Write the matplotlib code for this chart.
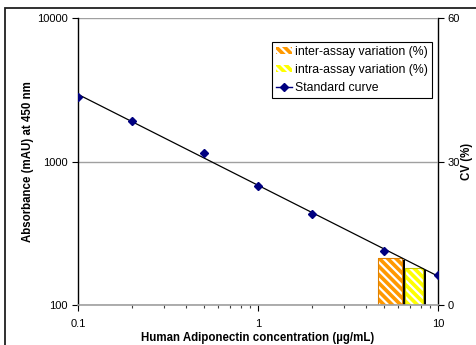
import numpy as np
import matplotlib
matplotlib.use("Agg")
import matplotlib.pyplot as plt
from matplotlib.lines import Line2D
from matplotlib.patches import Patch, Rectangle
from matplotlib.ticker import NullFormatter, LogLocator

plt.rcParams['font.family'] = ['Liberation Sans', 'DejaVu Sans']
plt.rcParams['hatch.linewidth'] = 1.6

# Data
concentration = [0.1, 0.2, 0.5, 1, 2, 5, 10]
absorbance = [2815, 1915, 1146, 675, 431, 238, 162]
cv_labels = ['inter-assay variation (%)', 'intra-assay variation (%)']
cv_values = [9.8, 7.7]

fig = plt.figure(figsize=(4.76, 3.45), dpi=100)
ax = fig.add_axes([78/476, 40/345, 360/476, 287/345])
ax2 = ax.twinx()

# bars on secondary axis
bar_left = [4.64, 6.56]
bar_right = [6.31, 8.26]
faces = ['#FF9900', '#FFFF00']
edges = ['#E08000', '#C8C800']
for l, r, v, fc, ec in zip(bar_left, bar_right, cv_values, faces, edges):
    ax2.add_patch(Rectangle((r * 0.99, 0), r * 1.04 - r * 0.99, v - 0.4,
                            facecolor='black', edgecolor='none', zorder=1))
    ax2.add_patch(Rectangle((l, 0), r - l, v, facecolor=fc, edgecolor='white',
                            hatch='\\\\\\\\', linewidth=0, zorder=2))
    ax2.add_patch(Rectangle((l, 0), r - l, v, facecolor='none', edgecolor=ec,
                            linewidth=0.8, zorder=3))
ax2.set_ylim(0, 60)
ax2.set_yticks([0, 30, 60])
ax2.tick_params(axis='y', labelsize=8, length=4, width=0.8, direction='out', pad=3)
ax2.set_ylabel('CV (%)', fontsize=8.3, fontweight='bold', labelpad=1)
for s in ['top', 'left', 'bottom']:
    ax2.spines[s].set_visible(False)
ax2.spines['right'].set_linewidth(1.0)

# main axis on top
ax.set_zorder(ax2.get_zorder() + 1)
ax.patch.set_visible(False)
ax.set_xscale('log')
ax.set_yscale('log')
ax.set_xlim(0.1, 10)
ax.set_ylim(100, 10000)

# power trendline fitted to the data
lx = np.log10(concentration)
ly = np.log10(absorbance)
b, a = np.polyfit(lx, ly, 1)
xs = np.array([concentration[0], concentration[-1]])
ax.plot(xs, 10 ** (a + b * np.log10(xs)), color='black', lw=0.9, zorder=3)
ax.plot(concentration, absorbance, linestyle='none', marker='D', ms=4.5,
        color='#000080', zorder=4)

ax.yaxis.grid(True, which='major', color='#A0A0A0', lw=1.0)
ax.set_axisbelow(True)
ax.yaxis.set_minor_locator(plt.NullLocator())
ax.set_yticks([100, 1000, 10000])
ax.set_yticklabels(['100', '1000', '10000'])
ax.set_xticks([0.1, 1, 10])
ax.set_xticklabels(['0.1', '1', '10'])
ax.xaxis.set_minor_locator(LogLocator(base=10, subs=np.arange(2, 10)))
ax.xaxis.set_minor_formatter(NullFormatter())
ax.tick_params(axis='both', which='major', labelsize=8, length=4, width=0.8)
ax.tick_params(axis='x', which='minor', length=2, width=0.8, color='#404040')
ax.tick_params(axis='x', which='major', pad=6)
for s in ['top', 'right']:
    ax.spines[s].set_visible(False)
ax.spines['left'].set_linewidth(1.0)
ax.spines['bottom'].set_color('#A0A0A0')
ax.spines['bottom'].set_linewidth(1.2)
ax.set_ylabel('Absorbance (mAU) at 450 nm', fontsize=8.3, fontweight='bold', labelpad=2)
ax.set_xlabel('Human Adiponectin concentration (\u00b5g/mL)', fontsize=8.3,
              fontweight='bold', labelpad=2)

handles = [
    Patch(facecolor=faces[0], edgecolor='white', hatch='\\\\\\\\', linewidth=0),
    Patch(facecolor=faces[1], edgecolor='white', hatch='\\\\\\\\', linewidth=0),
    Line2D([], [], color='#000080', marker='D', ms=4, lw=1.0),
]
labels = cv_labels + ['Standard curve']
leg = ax.legend(handles, labels, loc='upper right', bbox_to_anchor=(0.983, 0.918),
                fontsize=8.8, frameon=True, fancybox=False, edgecolor='black',
                framealpha=1, borderpad=0.35, labelspacing=0.5, handlelength=1.3,
                handleheight=0.6, handletextpad=0.25, borderaxespad=0)
leg.get_frame().set_linewidth(0.8)

# outer chart border
fig.add_artist(Rectangle((5/476, -0.1), 1.2, (345 - 8)/345 + 0.1,
                         transform=fig.transFigure, fill=False,
                         edgecolor='#202020', lw=1.3))

fig.savefig('out.png', dpi=100)
